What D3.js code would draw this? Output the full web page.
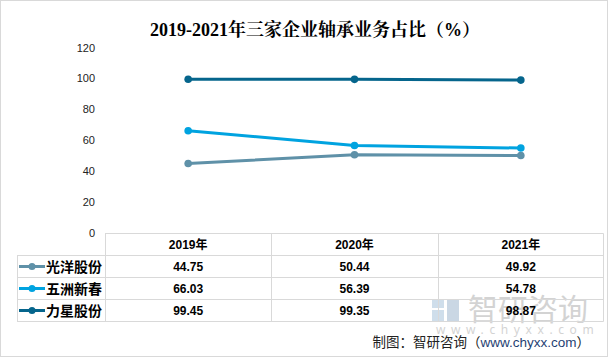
<!DOCTYPE html>
<html><head><meta charset="utf-8">
<script src="https://cdn.jsdelivr.net/npm/d3@7"></script>
<style>
body{margin:0;background:#fff;}
svg{display:block;}
</style></head>
<body>
<svg id="c" width="608" height="357"></svg>
<script>
const title = "2019-2021年三家企业轴承业务占比（%）";
const years = ["2019年","2020年","2021年"];
const seriesNames = ["光洋股份","五洲新春","力星股份"];
const guangyang = [44.75, 50.44, 49.92];
const wuzhou = [66.03, 56.39, 54.78];
const lixing = [99.45, 99.35, 98.87];
const yTicks = [0,20,40,60,80,100,120];
const colors = ["#5f91a8","#00a3e0","#05658c"];
const source = "制图：智研咨询（";
const sourceUrl = "www.chyxx.com";

const seriesValues = [guangyang, wuzhou, lixing];
const svg = d3.select("#c");

svg.append("rect").attr("x",0.5).attr("y",0.5).attr("width",607).attr("height",356)
  .attr("fill","#fff").attr("stroke","#d9d9d9");

svg.append("text").attr("x",315).attr("y",36).attr("text-anchor","middle")
  .attr("font-family","'Liberation Serif','Noto Serif CJK SC','Noto Sans CJK SC',serif")
  .attr("font-weight","bold").attr("font-size",18).attr("fill","#000").text(title);

const x = d3.scaleBand().domain(years).range([105,604]);
const y = d3.scaleLinear().domain([0,120]).range([232.5,47.5]);

// y axis labels
const yAxis = d3.axisLeft(y).tickValues(yTicks).tickSize(0).tickPadding(0);
const ga = svg.append("g").attr("transform","translate(95,0)").call(yAxis);
ga.select(".domain").remove();
ga.selectAll("text").attr("font-family","'Liberation Sans','Noto Sans',sans-serif")
  .attr("font-size",11).attr("fill","#222");

// watermark
const wm = svg.append("g").attr("opacity",0.55);
wm.append("rect").attr("x",432).attr("y",299).attr("width",12).attr("height",9).attr("fill","#a9c4dc");
wm.append("rect").attr("x",432).attr("y",310).attr("width",12).attr("height",11).attr("fill","#a9c4dc");
wm.append("rect").attr("x",447).attr("y",299).attr("width",12).attr("height",22).attr("fill","#9fb8cf");
wm.append("text").attr("x",468).attr("y",320).attr("font-family","'Noto Sans CJK SC',sans-serif")
  .attr("font-size",30).attr("fill","#b0b0b0").text("智研咨询");
wm.append("text").attr("x",436).attr("y",334).attr("font-family","'Noto Sans','Liberation Sans',sans-serif")
  .attr("font-size",12).attr("letter-spacing","5.6").attr("fill","#b0b0b0").text("www.chyxx.com");

// lines
const line = d3.line().x((d,i)=>x(years[i])+x.bandwidth()/2).y(d=>y(d));
seriesValues.forEach((vals,si)=>{
  svg.append("path").attr("d",line(vals)).attr("fill","none")
    .attr("stroke",colors[si]).attr("stroke-width",3).attr("stroke-linejoin","round");
  svg.selectAll(null).data(vals).enter().append("circle")
    .attr("cx",(d,i)=>x(years[i])+x.bandwidth()/2).attr("cy",d=>y(d)).attr("r",3.8)
    .attr("fill",colors[si]);
});

// data table
const rowTop = 233.5, rowH = 22;
const tg = svg.append("g");
const grid = "#d9d9d9";
// header top line
tg.append("line").attr("x1",105).attr("x2",603.5).attr("y1",rowTop).attr("y2",rowTop).attr("stroke",grid);
// rows horizontal lines
for(let r=1;r<=4;r++){
  tg.append("line").attr("x1",17).attr("x2",603.5).attr("y1",rowTop+r*rowH).attr("y2",rowTop+r*rowH).attr("stroke",grid);
}
// verticals
tg.append("line").attr("x1",17.5).attr("x2",17.5).attr("y1",rowTop+rowH).attr("y2",rowTop+4*rowH).attr("stroke",grid);
years.forEach((yr,i)=>{
  tg.append("line").attr("x1",Math.round(x(yr))+0.5).attr("x2",Math.round(x(yr))+0.5)
    .attr("y1",rowTop).attr("y2",rowTop+4*rowH).attr("stroke",grid);
});
tg.append("line").attr("x1",603.5).attr("x2",603.5).attr("y1",rowTop).attr("y2",rowTop+4*rowH).attr("stroke",grid);

const cellFont = "'Liberation Sans','Noto Sans CJK SC',sans-serif";
years.forEach((yr,i)=>{
  tg.append("text").attr("x",x(yr)+x.bandwidth()/2).attr("y",rowTop+rowH/2+4.5)
    .attr("text-anchor","middle").attr("font-family",cellFont).attr("font-weight","bold")
    .attr("font-size",12).attr("fill","#000").text(yr);
});
seriesValues.forEach((vals,si)=>{
  const cy = rowTop+(si+1)*rowH+rowH/2;
  tg.append("line").attr("x1",19).attr("x2",45).attr("y1",cy).attr("y2",cy)
    .attr("stroke",colors[si]).attr("stroke-width",3);
  tg.append("circle").attr("cx",32).attr("cy",cy).attr("r",3.5).attr("fill",colors[si]);
  tg.append("text").attr("x",46).attr("y",cy+5).attr("font-family","'Noto Sans CJK SC',sans-serif")
    .attr("font-weight","bold").attr("font-size",14).attr("fill","#000").text(seriesNames[si]);
  vals.forEach((v,i)=>{
    tg.append("text").attr("x",x(years[i])+x.bandwidth()/2).attr("y",cy+4.5)
      .attr("text-anchor","middle").attr("font-family",cellFont).attr("font-weight","bold")
      .attr("font-size",12).attr("fill","#000").text(v.toFixed(2));
  });
});

// source
const st = svg.append("text").attr("x",590).attr("y",347).attr("text-anchor","end")
  .attr("font-family","'Noto Sans CJK SC',sans-serif").attr("font-size",13.5).attr("fill","#222");
st.append("tspan").text(source);
st.append("tspan").attr("fill","#1f3f73").attr("font-family","'Liberation Sans',sans-serif").text(sourceUrl);
st.append("tspan").text("）");
</script>
</body></html>
